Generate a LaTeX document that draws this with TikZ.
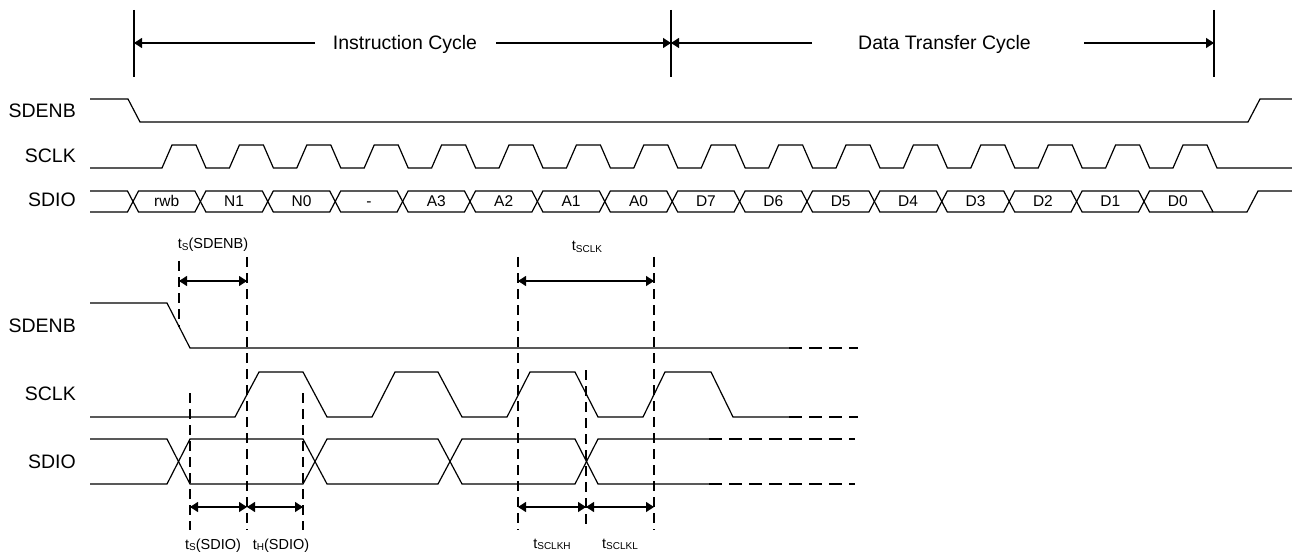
\documentclass[tikz,border=0pt]{standalone}
\usepackage{fontspec}
\setmainfont{Liberation Sans}
\usetikzlibrary{arrows.meta}
\newcommand\lowsub[1]{\raisebox{-1.5pt}{\fontsize{10}{12}\selectfont #1}}
\begin{document}
\begin{tikzpicture}[x=1pt,y=-1pt,
  sig/.style={line width=1.2pt, line join=miter},
  dsh/.style={line width=2.7pt, dash pattern=on 10pt off 6pt},
  hdsh/.style={line width=2.6pt, dash pattern=on 13pt off 7pt},
  dimarr/.style={line width=1.2pt, {Triangle[length=8pt,width=10pt]}-{Triangle[length=8pt,width=10pt]}},
  tiparr/.style={line width=1.2pt, -{Triangle[length=8pt,width=10pt]}},
  siglabel/.style={anchor=base east, font=\fontsize{19.5}{22}\selectfont, inner sep=0pt},
  buslabel/.style={anchor=base, font=\fontsize{15.5}{18}\selectfont, inner sep=0pt},
  tlabel/.style={anchor=base, font=\fontsize{14.5}{17}\selectfont, inner sep=0pt},
  cyc/.style={anchor=base, font=\fontsize{19.5}{22}\selectfont, inner sep=0pt}]
\useasboundingbox (0,0) rectangle (1292,553);

% ---------- top: cycle markers ----------
\coordinate (va) at (134,43);
\coordinate (vb) at (671,43);
\coordinate (vc) at (1214,43);
\draw[sig] (134,10) -- (134,77);
\draw[sig] (671,10) -- (671,77);
\draw[sig] (1214,10) -- (1214,77);
\node[cyc] (instr) at (405,50) {Instruction Cycle};
\node[cyc] (data) at (944.5,50) {Data Transfer Cycle};
\coordinate (ia) at (315,43);
\coordinate (ib) at (496,43);
\coordinate (da) at (812,43);
\coordinate (db) at (1084,43);
\draw[tiparr] (ia) -- (va);
\draw[tiparr] (ib) -- (vb);
\draw[tiparr] (da) -- (vb);
\draw[tiparr] (db) -- (vc);

% ---------- top: signal labels ----------
\node[siglabel] (l1) at (76,118) {SDENB};
\node[siglabel] (l2) at (76,163) {SCLK};
\node[siglabel] (l3) at (76,207) {SDIO};

% SDENB
\draw[sig] (90,99) -- (128,99) -- (140,122) -- (1248,122) -- (1260,99) -- (1292,99);
% SCLK
\draw[sig] (90,168) foreach \i in {0,...,15}{ -- ({162+67.4*\i},168) -- ({172+67.4*\i},145) -- ({196+67.4*\i},145) -- ({206+67.4*\i},168)} -- (1292,168);
% SDIO
\draw[sig] (90,191) -- (127.5,191) -- (133,201.5);
\draw[sig] (90,212) -- (127.5,212) -- (133,201.5);
\foreach \k in {0,...,14}{
  \draw[sig] ({133+67.4*\k},201.5) -- ({138.5+67.4*\k},191) -- ({194.9+67.4*\k},191) -- ({200.4+67.4*\k},201.5)
     -- ({194.9+67.4*\k},212) -- ({138.5+67.4*\k},212) -- cycle;
}
\draw[sig] (1144,201.5) -- (1149.5,191) -- (1202,191) -- (1213,212);
\draw[sig] (1144,201.5) -- (1149.5,212) -- (1247,212) -- (1258,191) -- (1292,191);
\foreach \t [count=\k from 0] in {rwb,N1,N0,-,A3,A2,A1,A0,D7,D6,D5,D4,D3,D2,D1,D0}{
  \node[buslabel] (b\k) at ({166.7+67.4*\k},207) {\t};
}

% ---------- bottom: signal labels ----------
\node[siglabel] (m1) at (76,332) {SDENB};
\node[siglabel] (m2) at (76,400) {SCLK};
\node[siglabel] (m3) at (76,468) {SDIO};

% SDENB
\draw[sig] (90,303) -- (167,303) -- (190,348) -- (789,348);
\draw[hdsh] (789,348) -- (858,348);
% SCLK
\draw[sig] (90,417) -- (235,417) -- (259,372) -- (303,372) -- (327,417) -- (372,417) -- (395,372) -- (438,372) -- (462,417)
  -- (507,417) -- (530,372) -- (575,372) -- (598,417) -- (643,417) -- (665,372) -- (711,372) -- (733,417) -- (789,417);
\draw[hdsh] (789,417) -- (858,417);
% SDIO
\draw[sig] (90,439) -- (167,439) -- (190,484) -- (303,484) -- (327,439) -- (438,439) -- (462,484) -- (575,484) -- (598,439) -- (709,439);
\draw[sig] (90,484) -- (167,484) -- (190,439) -- (303,439) -- (327,484) -- (438,484) -- (462,439) -- (575,439) -- (598,484) -- (709,484);
\draw[hdsh] (709,439) -- (855,439);
\draw[hdsh] (709,484) -- (855,484);

% dashed verticals
\draw[dsh, dash phase=12pt] (179,257) -- (179,327);
\draw[dsh] (247,257) -- (247,530);
\draw[dsh] (190,393) -- (190,530);
\draw[dsh] (303,393) -- (303,530);
\draw[dsh] (518,257) -- (518,530);
\draw[dsh] (654,257) -- (654,530);
\draw[dsh] (586,370) -- (586,530);

% dimension arrows
\coordinate (s1) at (179,281);
\coordinate (s2) at (247,281);
\coordinate (k1) at (518,281);
\coordinate (k2) at (654,281);
\coordinate (d1) at (190,507);
\coordinate (d2) at (247,507);
\coordinate (d3) at (303,507);
\coordinate (h1) at (518,507);
\coordinate (h2) at (586,507);
\coordinate (h3) at (654,507);
\draw[dimarr] (s1) -- (s2);
\draw[dimarr] (k1) -- (k2);
\draw[dimarr] (d1) -- (d2);
\draw[dimarr] (d2) -- (d3);
\draw[dimarr] (h1) -- (h2);
\draw[dimarr] (h2) -- (h3);

% timing labels
\node[tlabel] (ts1) at (213,249) {t\lowsub{S}(SDENB)};
\node[tlabel] (ts2) at (587,251) {t\lowsub{SCLK}};
\node[tlabel] (ts3) at (213,549) {t\lowsub{S}(SDIO)};
\node[tlabel] (ts4) at (281,549) {t\lowsub{H}(SDIO)};
\node[tlabel] (ts5) at (552,548) {t\lowsub{SCLKH}};
\node[tlabel] (ts6) at (620,548) {t\lowsub{SCLKL}};
\end{tikzpicture}
\end{document}
